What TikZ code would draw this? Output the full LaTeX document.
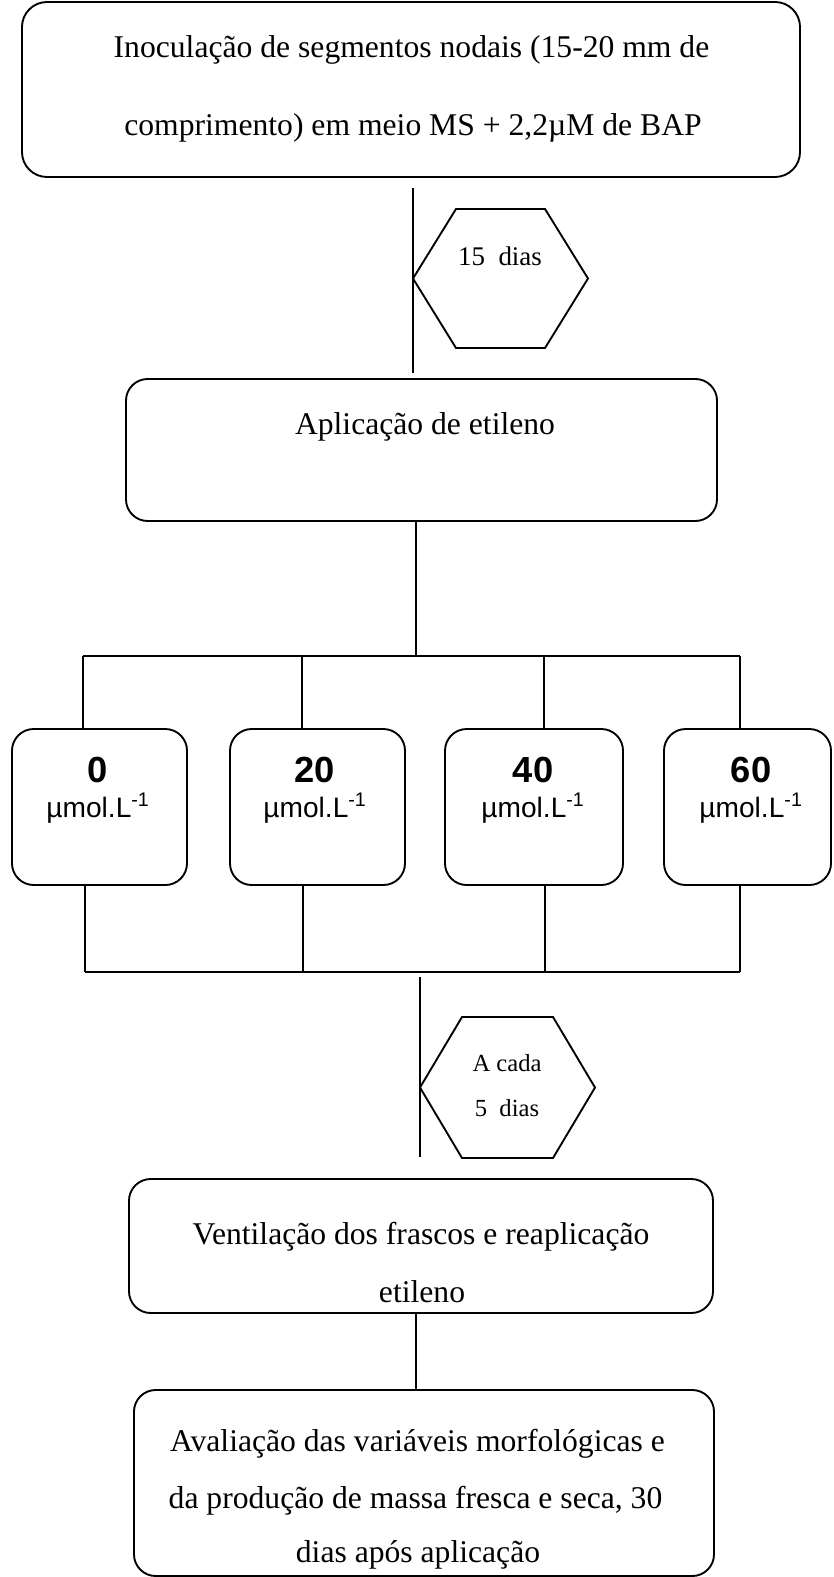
\documentclass[tikz,border=0pt]{standalone}
\usepackage{fontspec}
\setmainfont{Liberation Serif}
\newfontfamily\arialfont{Liberation Sans}
\usetikzlibrary{calc}

\tikzset{
    etapa/.style={draw, rounded corners=0.65cm, line width=1.6pt, outer sep=0pt, inner sep=0pt},
    dose/.style={etapa, minimum height=4.68cm},
    hexa/.style={inner sep=0pt, outer sep=0pt},
    liga/.style={line width=1.6pt},
    texto/.style={anchor=base, inner sep=0pt, font=\fontsize{27}{30}\selectfont},
    textohex/.style={anchor=base, inner sep=0pt, font=\fontsize{23}{26}\selectfont},
    numero/.style={anchor=base, inner sep=0pt, font=\arialfont\bfseries\fontsize{31}{34}\selectfont},
    unidade/.style={anchor=base, inner sep=0pt, font=\arialfont\fontsize{24}{26}\selectfont}
}

%% hexagon drawn on the frame of an empty node
\newcommand{\hexagono}[2]{%
    \draw[liga, line join=miter] (#1.west) -- ([xshift=#2]#1.north west) -- ([xshift=-#2]#1.north east)
        -- (#1.east) -- ([xshift=-#2]#1.south east) -- ([xshift=#2]#1.south west) -- cycle;}

\begin{document}
\begin{tikzpicture}[x=0.03cm, y=-0.03cm]
    \useasboundingbox (0,0) rectangle (833,1577);
    %% inoculation
    \node[etapa, rounded corners=0.75cm, minimum width=23.34cm, minimum height=5.25cm] (inoc) at (411,89.5) {};
    \node[texto] (inoc1) at (411.5,58) {Inoculação de segmentos nodais (15-20 mm de};
    \node[texto] (inoc2) at (413,136) {comprimento) em meio MS + 2,2µM de BAP};
    %% 15 days
    \node[hexa, minimum width=5.25cm, minimum height=4.17cm] (h15) at (500.5,278.5) {};
    \hexagono{h15}{1.29cm}
    \node[textohex] (h15t) at (500,265) {15\ \ dias};
    %% ethylene application
    \node[etapa, minimum width=17.73cm, minimum height=4.26cm] (aplic) at (421.5,450) {};
    \node[texto] (aplict) at (425,434) {Aplicação de etileno};
    \draw[liga, shorten <=0.33cm, shorten >=0.18cm] (inoc.south -| h15.west) -- (aplic.north -| h15.west);
    %% doses
    \node[dose, minimum width=5.25cm] (d0) at (99.5,807) {};
    \node[dose, minimum width=5.25cm] (d20) at (317.5,807) {};
    \node[dose, minimum width=5.34cm] (d40) at (534,807) {};
    \node[dose, minimum width=5.01cm] (d60) at (747.5,807) {};
    \node[numero] (d0n) at (98,782) {0};
    \node[unidade] (d0u) at (98,817) {µmol.L\textsuperscript{-1}};
    \node[numero] (d20n) at (315,782) {20};
    \node[unidade] (d20u) at (315,817) {µmol.L\textsuperscript{-1}};
    \node[numero] (d40n) at (533,782) {40};
    \node[unidade] (d40u) at (533,817) {µmol.L\textsuperscript{-1}};
    \node[numero] (d60n) at (751,782) {60};
    \node[unidade] (d60u) at (751,817) {µmol.L\textsuperscript{-1}};
    %% branching above
    \coordinate (topo) at (416,656);
    \coordinate (t0) at (83,656);
    \coordinate (t20) at (302,656);
    \coordinate (t40) at (544,656);
    \coordinate (t60) at (740,656);
    \draw[liga] (aplic.south -| topo) -- (topo);
    \draw[liga] (t0) -- (t60);
    \draw[liga] (t0) -- (t0 |- d0.north);
    \draw[liga] (t20) -- (t20 |- d20.north);
    \draw[liga] (t40) -- (t40 |- d40.north);
    \draw[liga] (t60) -- (t60 |- d60.north);
    %% joining below
    \coordinate (b0) at (85,972);
    \coordinate (b20) at (303,972);
    \coordinate (b40) at (545,972);
    \coordinate (b60) at (740,972);
    \draw[liga] (b0) -- (b60);
    \draw[liga] (d0.south -| b0) -- (b0);
    \draw[liga] (d20.south -| b20) -- (b20);
    \draw[liga] (d40.south -| b40) -- (b40);
    \draw[liga] (d60.south -| b60) -- (b60);
    %% every 5 days
    \node[hexa, minimum width=5.25cm, minimum height=4.23cm] (h5) at (507.5,1087.5) {};
    \hexagono{h5}{1.26cm}
    \node[textohex, font=\fontsize{21}{24}\selectfont] (h5a) at (507,1071) {A cada};
    \node[textohex, font=\fontsize{21}{24}\selectfont] (h5b) at (507,1116) {5\ \ dias};
    %% ventilation
    \node[etapa, minimum width=17.52cm, minimum height=4.02cm] (vent) at (421,1246) {};
    \node[texto] (vent1) at (421,1244) {Ventilação dos frascos e reaplicação};
    \node[texto] (vent2) at (422,1302) {etileno};
    \draw[liga, shorten <=0.15cm, shorten >=0.66cm] (h5.west |- b0) -- (vent.north -| h5.west);
    %% evaluation
    \node[etapa, minimum width=17.4cm, minimum height=5.58cm] (aval) at (424,1483) {};
    \node[texto] (aval1) at (417.5,1451) {Avaliação das variáveis morfológicas e};
    \node[texto] (aval2) at (415.5,1508) {da produção de massa fresca e seca, 30};
    \node[texto] (aval3) at (418,1562) {dias após aplicação};
    \draw[liga] (vent.south -| topo) -- (aval.north -| topo);
\end{tikzpicture}
\end{document}
